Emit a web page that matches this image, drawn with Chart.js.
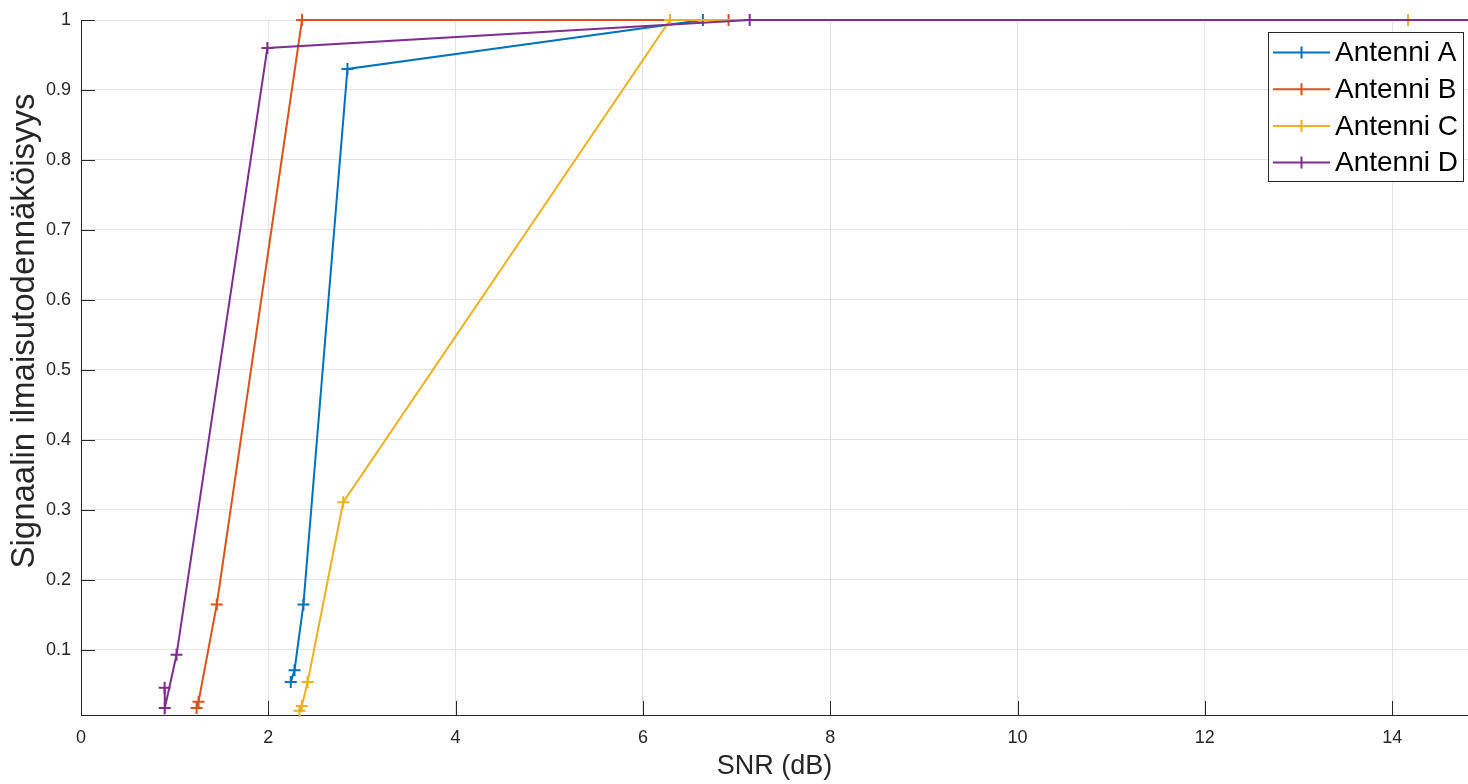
<!DOCTYPE html>
<html>
<head>
<meta charset="utf-8">
<script src="https://cdn.jsdelivr.net/npm/chart.js@4/dist/chart.umd.min.js"></script>
<style>
  body { margin: 0; background: #fff; }
  canvas { display: block; }
</style>
</head>
<body>
<canvas id="chart" width="1468" height="784"></canvas>
<script>
// values
const snrA = [2.24, 2.28, 2.375, 2.845, 6.64, 16]
const probA = [0.054, 0.071, 0.165, 0.93, 1, 1]
const snrB = [1.234, 1.255, 1.45, 2.36, 6.915, 16]
const probB = [0.017, 0.026, 0.165, 1, 1, 1]
const snrC = [2.333, 2.358, 2.42, 2.80, 6.29, 14.17, 16]
const probC = [0.013, 0.020, 0.054, 0.311, 1, 1, 1]
const snrD = [0.893, 0.895, 1.02, 1.99, 7.14, 16]
const probD = [0.046, 0.017, 0.093, 0.96, 1, 1]

const seriesNames = ["Antenni A", "Antenni B", "Antenni C", "Antenni D"]
const seriesColors = ["#0072BD", "#D95319", "#EDB120", "#7E2F8E"]
const xTicks = [0, 2, 4, 6, 8, 10, 12, 14]
const yTicks = [0.1, 0.2, 0.3, 0.4, 0.5, 0.6, 0.7, 0.8, 0.9, 1]
const yTitle = "Signaalin ilmaisutodennäköisyys"

const FONT = "'Liberation Sans', Arial, Helvetica, sans-serif"
const AXIS = "#262626"

const toPoints = (xs, ys) => xs.map((x, i) => ({x: x, y: ys[i]}))
const allData = [toPoints(snrA, probA), toPoints(snrB, probB), toPoints(snrC, probC), toPoints(snrD, probD)]

const datasets = allData.map((pts, i) => ({
    label: seriesNames[i],
    data: pts,
    borderColor: seriesColors[i],
    backgroundColor: seriesColors[i],
    borderWidth: 2,
    pointStyle: "cross",
    pointRadius: 6,
    pointBorderWidth: 2,
    pointBorderColor: seriesColors[i],
    tension: 0,
    clip: false,
    order: 4 - i
}))

// matlab style ticks pointing inward, y label, legend box inside the axes
const extras = {
    id: "extras",
    afterDraw(chart) {
        const ctx = chart.ctx
        const area = chart.chartArea
        const xs = chart.scales.x
        const ys = chart.scales.y
        ctx.save()
        ctx.strokeStyle = AXIS
        ctx.lineWidth = 1
        ctx.beginPath()
        xTicks.forEach(v => {
            let px = Math.round(xs.getPixelForValue(v)) + 0.5
            ctx.moveTo(px, area.bottom)
            ctx.lineTo(px, area.bottom - 14)
        })
        yTicks.forEach(v => {
            let py = Math.round(ys.getPixelForValue(v)) + 0.5
            ctx.moveTo(area.left, py)
            ctx.lineTo(area.left + 14, py)
        })
        ctx.stroke()

        // y title
        ctx.save()
        ctx.translate(25, 331)
        ctx.rotate(-Math.PI / 2)
        ctx.fillStyle = AXIS
        ctx.font = "33px " + FONT
        ctx.textAlign = "center"
        ctx.textBaseline = "middle"
        ctx.fillText(yTitle, 0, 0)
        ctx.restore()

        // legend
        let bx = 1268.5, by = 32.5, bw = 195, bh = 149
        ctx.fillStyle = "#fff"
        ctx.fillRect(bx, by, bw, bh)
        ctx.strokeStyle = AXIS
        ctx.strokeRect(bx, by, bw, bh)
        ctx.font = "28px " + FONT
        ctx.textBaseline = "middle"
        ctx.textAlign = "left"
        seriesNames.forEach((name, i) => {
            let cy = 52.5 + i * 36.7
            ctx.strokeStyle = seriesColors[i]
            ctx.lineWidth = 2
            ctx.beginPath()
            ctx.moveTo(1273, cy)
            ctx.lineTo(1330, cy)
            ctx.moveTo(1301.5, cy - 6)
            ctx.lineTo(1301.5, cy + 6)
            ctx.stroke()
            ctx.fillStyle = "#000"
            ctx.fillText(name, 1335, cy + 1)
        })
        ctx.restore()
    }
}

new Chart(document.getElementById("chart"), {
    type: "line",
    data: { datasets: datasets },
    options: {
        responsive: false,
        animation: false,
        layout: { autoPadding: false, padding: { left: 0, right: 0, top: 20, bottom: 0 } },
        plugins: { legend: { display: false }, tooltip: { enabled: false } },
        scales: {
            x: {
                type: "linear",
                min: 0,
                max: 14.81,
                afterBuildTicks: s => { s.ticks = xTicks.map(v => ({value: v})) },
                afterFit: s => { s.height = 69; s.paddingRight = 0; s.paddingLeft = 0 },
                grid: { color: "#e3e3e3", drawTicks: false },
                border: { display: true, color: AXIS, width: 1 },
                ticks: {
                    color: AXIS, padding: 12,
                    font: { family: FONT, size: 18 },
                    maxRotation: 0,
                    callback: v => String(v)
                },
                title: {
                    display: true, text: "SNR (dB)", color: AXIS,
                    font: { family: FONT, size: 27 },
                    padding: { top: 0, bottom: 1 }
                }
            },
            y: {
                type: "linear",
                min: 0.007,
                max: 1,
                afterBuildTicks: s => { s.ticks = yTicks.map(v => ({value: v})) },
                afterFit: s => { s.width = 81; s.paddingTop = 0; s.paddingBottom = 0 },
                grid: { color: "#e3e3e3", drawTicks: false },
                border: { display: true, color: AXIS, width: 1 },
                ticks: {
                    color: AXIS, padding: 10,
                    font: { family: FONT, size: 18 },
                    callback: v => String(v)
                }
            }
        }
    },
    plugins: [extras]
})
</script>
</body>
</html>
